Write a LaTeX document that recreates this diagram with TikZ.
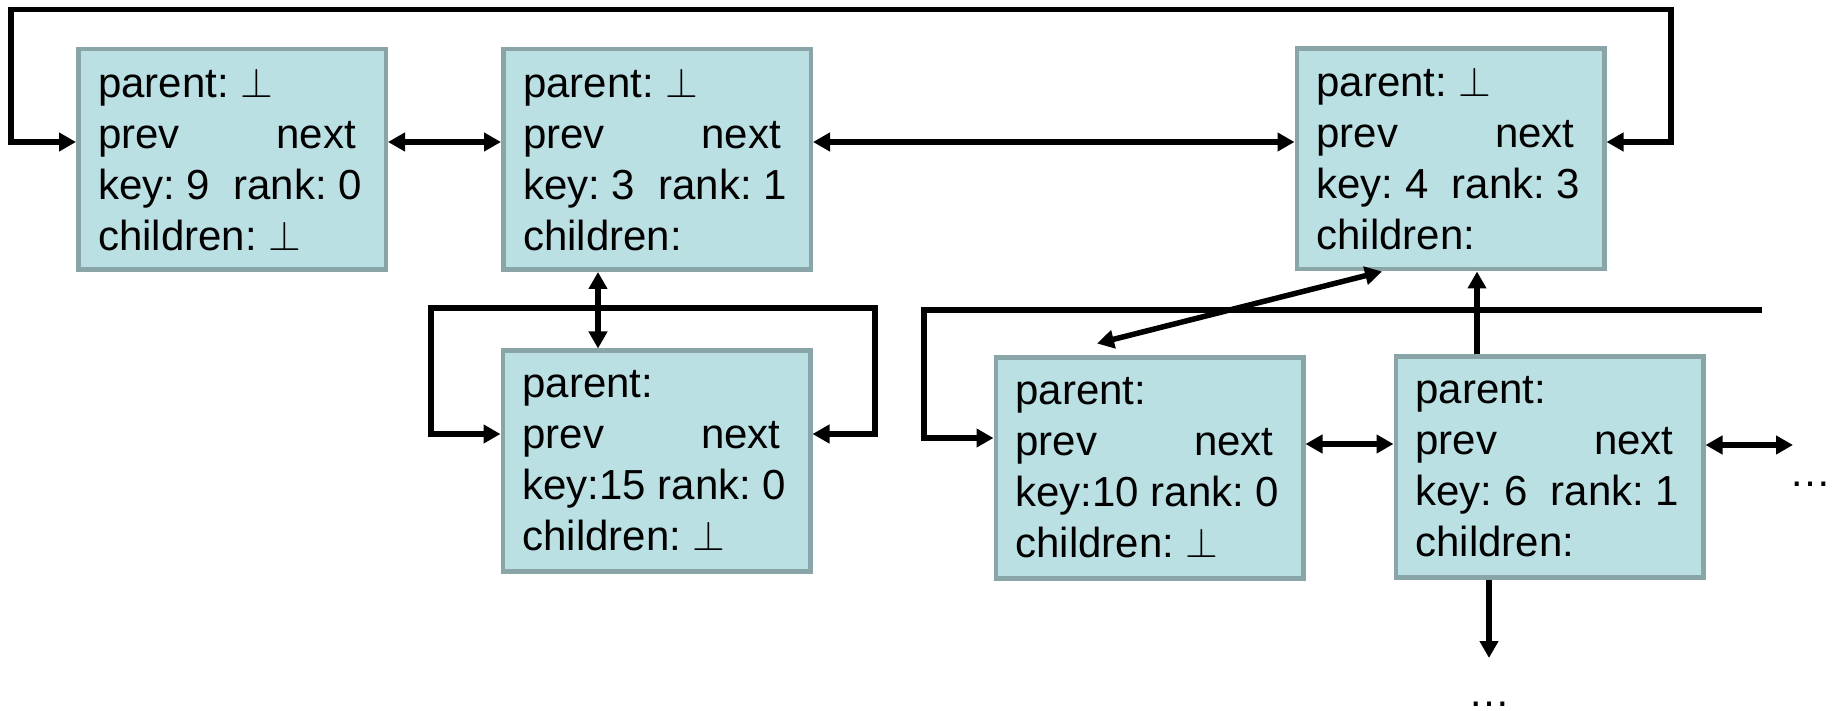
\documentclass[tikz,border=0pt]{standalone}
\usepackage{fix-cm}
\usepackage{fontspec}
\setmainfont{Liberation Sans}
\usetikzlibrary{arrows.meta}
\definecolor{cellfill}{RGB}{186,224,228}
\definecolor{cellline}{RGB}{138,165,168}
\newcommand{\nil}{$\perp$}
% one text row of a cell, of fixed width
\newcommand{\row}[1]{\makebox[268pt][l]{#1}}
\begin{document}
\frenchspacing
\begin{tikzpicture}[x=1pt,y=-1pt,
  cell/.style={draw=cellline, line width=4.5pt, fill=cellfill,
    minimum width=307.5pt, minimum height=220.5pt,
    inner xsep=19.75pt, inner ysep=0pt, align=left,
    font=\fontsize{42}{51}\selectfont\frenchspacing},
  tip/.tip={Triangle[length=17pt,width=18pt]},
  link/.style={line width=5.5pt, -tip},
  both/.style={line width=5.5pt, tip-tip},
  dots/.style={font=\fontsize{42}{51}\selectfont, inner sep=0pt}
]
\useasboundingbox (0,0) rectangle (1837,711);

% root list nodes
\node[cell] (A) at (232,159.5) {\row{parent: \nil}\\
  \row{prev\hfill next\hspace*{10pt}}\\
  \row{key: 9~ rank: 0}\\
  \row{children: \nil}};
\node[cell] (B) at (657,159.5) {\row{parent: \nil}\\
  \row{prev\hfill next\hspace*{10pt}}\\
  \row{key: 3~ rank: 1}\\
  \row{children:}};
\node[cell] (C) at (1450.5,159) {\row{parent: \nil}\\
  \row{prev\hfill next\hspace*{10pt}}\\
  \row{key: 4~ rank: 3}\\
  \row{children:}};

% child nodes
\node[cell] (F) at (656.5,461) {\row{parent:}\\
  \row{prev\hfill next\hspace*{10pt}}\\
  \row{key:15 rank: 0}\\
  \row{children: \nil}};
\node[cell] (D) at (1149.5,468) {\row{parent:}\\
  \row{prev\hfill next\hspace*{10pt}}\\
  \row{key:10 rank: 0}\\
  \row{children: \nil}};
\node[cell] (E) at (1549.5,467) {\row{parent:}\\
  \row{prev\hfill next\hspace*{10pt}}\\
  \row{key: 6~ rank: 1}\\
  \row{children:}};

% ellipses for the omitted parts
\node[dots, anchor=base] (moreR) at (1810,486) {…};
\node[dots, anchor=base] (moreD) at (1489,706) {…};

% routing points
\coordinate (topL) at (11,9.5);
\coordinate (topR) at (1671,9.5);
\coordinate (fL) at (431,308);
\coordinate (fR) at (875,308);
\coordinate (dL) at (924,310);
\coordinate (dR) at (1762,310);
\coordinate (eR) at (1793,445);
\coordinate (eD) at (1489,658);
\coordinate (eUp) at ([xshift=-72.5pt]E.north);

% root list: circular doubly linked
\draw[both] ([yshift=17.5pt]A.west) -| (topL) -- (topR) |- ([yshift=17pt]C.east);
\draw[both] ([yshift=17.5pt]A.east) -- ([yshift=17.5pt]B.west);
\draw[both] ([yshift=17.5pt]B.east) -- ([yshift=17pt]C.west);

% child of key 3
\draw[both] ([xshift=-59pt]B.south) -- ([xshift=-58.5pt]F.north);
\draw[both] ([yshift=27pt]F.west) -| (fL) -- (fR) |- ([yshift=27pt]F.east);

% children of key 4
\draw[both] ([xshift=-68.5pt]C.south) -- ([xshift=-52.5pt,yshift=12pt]D.north);
\draw[link] (eUp) -- (eUp |- C.south);
\draw[link] (dR) -- (dL) |- ([yshift=30pt]D.west);
\draw[both] ([yshift=24pt]D.east) -- ([yshift=23pt]E.west);
\draw[both] ([yshift=22pt]E.east) -- (eR);
\draw[link] ([xshift=-60.5pt]E.south) -- (eD);
\end{tikzpicture}
\end{document}
